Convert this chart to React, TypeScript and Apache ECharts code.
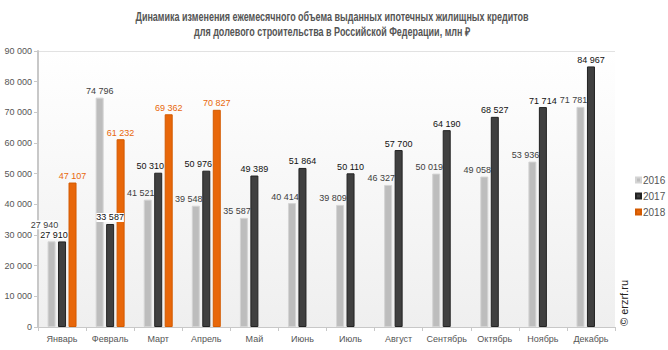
import React, { useEffect, useRef } from "react";
import * as echarts from "echarts";

const months = ["Январь", "Февраль", "Март", "Апрель", "Май", "Июнь", "Июль", "Август", "Сентябрь", "Октябрь", "Ноябрь", "Декабрь"];
const values2016 = [27940, 74796, 41521, 39548, 35587, 40414, 39809, 46327, 50019, 49058, 53936, 71781];
const values2017 = [27910, 33587, 50310, 50976, 49389, 51864, 50110, 57700, 64190, 68527, 71714, 84967];
const values2018: (number | null)[] = [47107, 61232, 69362, 70827, null, null, null, null, null, null, null, null];
const seriesNames = ["2016", "2017", "2018"];
const titleLines = [
  "Динамика изменения ежемесячного объема выданных ипотечных жилищных кредитов",
  "для долевого строительства в Российской Федерации, млн ₽",
];

const FONT = "'Liberation Sans', Arial, sans-serif";
const fmt = (v: number) => String(v).replace(/\B(?=(\d{3})+(?!\d))/g, " ");

export default function App() {
  const ref = useRef<HTMLDivElement>(null);
  useEffect(() => {
    document.body.style.margin = "0";
    if (!ref.current) return;
    const chart = echarts.init(ref.current, undefined, { renderer: "svg" });

    const labelBase = (color: string) => ({
      show: true,
      position: "top" as const,
      distance: 2,
      color,
      fontSize: 9,
      fontFamily: FONT,
      formatter: (p: any) => fmt(p.value),
    });

    const d2016 = values2016.map((v, i) => {
      const item: any = { value: v };
      if (i === 1) return item;
      item.label = { offset: [-7, i === 0 ? -10 : 0] };
      if (i === 0) item.label.backgroundColor = "#fff";
      return item;
    });
    const d2017 = values2017.map((v, i) => {
      const item: any = { value: v };
      if (values2018[i] != null && i !== 1) item.label = { offset: [-8, 0] };
      if (i <= 1) item.label = { ...(item.label || {}), backgroundColor: "#fff" };
      return item;
    });

    chart.setOption({
      animation: false,
      backgroundColor: "#fff",
      legend: {
        orient: "vertical",
        left: 630,
        top: 170,
        itemWidth: 5,
        itemHeight: 5,
        itemGap: 6,
        icon: "rect",
        textStyle: { fontSize: 10, color: "#555", fontFamily: FONT, padding: [0, 0, 0, -3] },
        data: seriesNames,
      },
      grid: {
        left: 38,
        right: 53,
        top: 51,
        bottom: 23,
        show: true,
        borderWidth: 0,
        backgroundColor: new echarts.graphic.LinearGradient(0, 0, 0, 1, [
          { offset: 0, color: "#ffffff" },
          { offset: 1, color: "#efefef" },
        ]),
      },
      xAxis: {
        type: "category",
        data: months,
        axisLine: { lineStyle: { color: "#c8c8c8", width: 1 } },
        axisTick: { show: true, length: 4, lineStyle: { color: "#c8c8c8" } },
        axisLabel: { interval: 0, fontSize: 9, color: "#555", fontFamily: FONT, margin: 7 },
      },
      yAxis: {
        type: "value",
        min: 0,
        max: 90000,
        interval: 10000,
        axisLine: { show: true, lineStyle: { color: "#c8c8c8", width: 2 } },
        axisTick: { show: true, length: 4, lineStyle: { color: "#c8c8c8" } },
        axisLabel: { fontSize: 9, color: "#555", fontFamily: FONT, margin: 6, formatter: (v: number) => fmt(v) },
        splitLine: {
          show: true,
          lineStyle: { color: ["transparent", "transparent", "transparent", "transparent", "transparent", "transparent", "transparent", "transparent", "transparent", "#e2e2e2"] },
        },
      },
      series: [
        {
          name: seriesNames[0],
          type: "bar",
          data: d2016,
          barWidth: 8,
          barGap: "31%",
          itemStyle: { color: "#bdbdbd", borderColor: "#d4d4d4", borderWidth: 1 },
          label: labelBase("#404040"),
        },
        {
          name: seriesNames[1],
          type: "bar",
          data: d2017,
          barWidth: 8,
          barGap: "31%",
          itemStyle: { color: "#404040", borderColor: "#222", borderWidth: 1 },
          label: labelBase("#111"),
        },
        {
          name: seriesNames[2],
          type: "bar",
          data: values2018,
          barWidth: 8,
          barGap: "31%",
          itemStyle: { color: "#e8670a", borderColor: "#d35a00", borderWidth: 1 },
          label: labelBase("#e8670a"),
        },
      ],
      graphic: [
        ...titleLines.map((t, i) => ({
          type: "text",
          x: 332,
          y: 16 + i * 15,
          scaleX: 0.75,
          style: {
            text: t,
            fontSize: 12,
            fontWeight: "bold",
            fill: "#555",
            fontFamily: FONT,
            align: "center",
            verticalAlign: "middle",
          },
        })),
        {
          type: "text",
          x: 618,
          y: 326,
          rotation: Math.PI / 2,
          style: { text: "© erzrf.ru", fontSize: 11, fill: "#222", fontFamily: FONT },
        },
      ],
    });
    return () => chart.dispose();
  }, []);
  return <div ref={ref} style={{ width: 668, height: 350 }} />;
}
